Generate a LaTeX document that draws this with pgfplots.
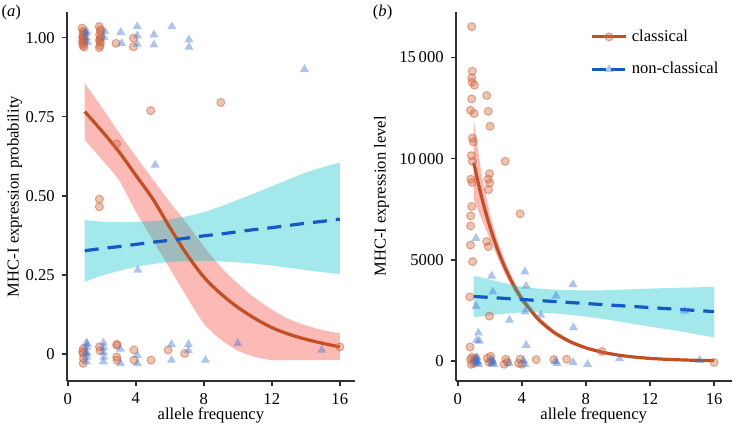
\documentclass[border=0pt]{standalone}
\usepackage{fontspec}
\setmainfont{Liberation Serif}
\usepackage{pgfplots}
\usepackage{pgfplotstable}
\pgfplotsset{compat=1.18}
\usepgfplotslibrary{fillbetween}

\definecolor{ClassLine}{HTML}{C44E22}
\definecolor{ClassPt}{HTML}{D2693E}
\definecolor{PinkBand}{HTML}{F8766D}
\definecolor{TealBand}{HTML}{00BFC4}
\definecolor{NonLine}{HTML}{1558C8}
\definecolor{NonPt}{HTML}{3B73D9}
\definecolor{AxisGray}{HTML}{303030}

% panel (a): fitted probability, classical
\pgfplotstableread{
x v up lo
1 0.766 0.856 0.676
2 0.705 0.780 0.615
3 0.640 0.700 0.550
4 0.565 0.625 0.450
5 0.490 0.552 0.360
6 0.400 0.480 0.270
7 0.315 0.413 0.180
8 0.243 0.340 0.096
9 0.190 0.275 0.045
10 0.147 0.222 0.010
11 0.112 0.177 -0.010
12 0.083 0.140 -0.020
13 0.062 0.110 -0.020
14 0.046 0.090 -0.020
15 0.033 0.075 -0.020
16 0.022 0.065 -0.020
}\fitAC
% panel (a): fitted probability, non-classical
\pgfplotstableread{
x v up lo
1 0.326 0.423 0.228
2 0.333 0.418 0.247
3 0.339 0.416 0.262
4 0.346 0.417 0.275
5 0.353 0.420 0.284
6 0.359 0.425 0.290
7 0.366 0.435 0.293
8 0.373 0.448 0.294
9 0.379 0.466 0.292
10 0.386 0.487 0.289
11 0.393 0.508 0.285
12 0.399 0.530 0.279
13 0.406 0.552 0.272
14 0.413 0.573 0.265
15 0.419 0.590 0.258
16 0.426 0.605 0.252
}\fitAN
\pgfplotstableread{
x y
0.85 1.030
0.90 1.020
0.95 1.010
0.88 1.000
0.92 0.995
0.97 0.990
0.86 0.985
0.93 0.980
0.90 0.975
0.96 0.970
0.89 1.005
0.94 1.015
0.91 0.990
1.85 1.035
1.92 1.025
1.88 1.010
1.95 1.000
1.87 0.990
1.93 0.985
1.90 0.975
1.86 0.968
1.94 1.020
1.89 0.995
2.84 0.982
3.86 0.998
3.86 0.971
4.88 0.769
9.00 0.795
2.88 0.664
1.86 0.489
1.86 0.465
0.92 0.017
0.90 0.001
0.93 -0.015
0.91 -0.030
0.88 0.008
1.86 0.022
1.90 0.010
2.88 0.027
2.90 0.030
2.88 -0.010
2.90 -0.020
3.90 0.012
3.90 -0.020
4.90 -0.020
5.90 0.012
6.88 0.001
16.0 0.022
}\ptsAC
\pgfplotstableread{
x y
1.08 1.014
1.16 0.985
1.10 1.000
1.12 1.020
2.19 1.019
2.15 1.000
3.12 1.017
3.17 0.982
4.09 1.035
4.09 1.006
4.09 0.980
5.07 1.009
5.07 0.977
6.12 1.035
7.13 0.993
7.13 0.970
13.92 0.900
5.14 0.597
4.12 0.265
1.10 0.035
1.12 0.020
1.10 0.005
1.13 -0.010
1.10 -0.025
1.15 0.030
1.12 0.000
2.10 0.035
2.12 0.020
2.10 0.005
2.13 -0.010
2.10 -0.025
3.10 0.015
3.10 -0.030
4.10 -0.005
4.10 -0.030
6.10 0.030
6.10 -0.020
7.10 0.030
7.10 0.010
8.10 -0.020
10.00 0.033
14.94 0.012
}\ptsAN

% panel (b): fitted expression level
\pgfplotstableread{
x v
1 9800
1.5 8083
2 6667
2.5 5499
3 4535
3.5 3741
4 3086
5 2099
6 1428
7 971
8 661
9 450
10 306
11 208
12 141
13 96
14 65
15 45
16 30
}\fitBC
% band outline: upper edge left to right, then lower edge right to left
\pgfplotstableread{
x y
1 11900
1.5 9200
2 7300
2.5 5900
3 4850
3.5 3980
4 3280
5 2240
6 1540
7 1060
8 740
9 520
10 370
11 265
12 195
13 145
14 110
15 85
16 70
16 -10
15 5
14 20
13 50
12 90
11 150
10 245
9 380
8 580
7 880
6 1320
5 1960
4 2890
3.5 3500
3 4230
2.5 5100
2 6050
1.5 7000
1 8000
}\bandBC
\pgfplotstableread{
x v
1 3200
4 3050
8 2850
12 2650
16 2450
}\fitBN
\pgfplotstableread{
x y
1 4230
2 4030
3 3840
4 3690
5 3590
6 3535
7 3510
8 3500
9 3500
10 3530
11 3560
12 3590
13 3610
14 3630
15 3650
16 3670
16 1175
15 1320
14 1460
13 1590
12 1710
11 1840
10 1970
9 2100
8 2200
7 2290
6 2365
5 2410
4 2410
3 2360
2 2270
1 2170
}\bandBN
\pgfplotstableread{
x y
0.875 16520
0.91 14320
0.875 13990
0.90 13780
1.04 13630
0.875 12950
0.80 12390
1.02 12230
1.81 13120
1.91 12340
2.02 11600
0.92 11020
0.98 10830
0.85 10150
0.92 9870
2.96 9870
0.82 8990
0.90 8830
1.98 9260
1.90 8990
2.00 8800
1.92 8470
0.875 7640
0.81 7180
3.90 7280
0.81 6680
0.80 5740
0.93 4920
1.81 5910
1.91 5660
0.75 3180
1.98 2230
0.77 700
0.80 100
0.85 -150
0.90 200
1.00 -100
1.05 50
1.10 150
1.85 150
1.95 -50
2.05 250
2.10 0
2.90 -150
3.00 100
3.10 -50
3.80 -100
3.90 100
4.00 -150
4.90 80
6.00 80
6.80 100
9.00 480
16.0 -60
}\ptsBC
\pgfplotstableread{
x y
1.14 6070
4.20 4420
2.12 4210
4.27 3710
2.19 3430
1.14 2720
7.19 3790
6.14 3220
5.19 2280
3.23 2030
4.20 2440
7.22 1670
1.29 1400
1.19 1040
1.35 1000
4.27 790
14.16 2475
10.10 130
15.10 50
1.10 100
1.15 -100
1.20 200
1.25 0
1.30 -150
1.15 50
1.20 -50
2.10 100
2.15 -100
2.20 0
2.25 -150
3.20 -100
4.10 50
4.20 -150
6.10 0
6.20 -100
7.20 -50
8.10 -150
}\ptsBN

\pgfplotsset{
  panel/.style={
    scale only axis,
    height=184.5pt,
    axis x line*=bottom, axis y line*=left,
    axis line style={AxisGray, line width=0.8pt, -},
    tick style={AxisGray, line width=0.8pt},
    tick align=outside, major tick length=2.5pt,
    font=\fontsize{8.3}{10}\selectfont,
    xtick={0,4,8,12,16},
    xticklabels={0,4,8,12,16},
    scaled x ticks=false, scaled y ticks=false,
    xlabel={allele frequency},
    xlabel style={yshift=5pt},
    clip=true,
  },
  cpts/.style={only marks, mark=*, mark size=2pt, ClassPt,
    mark options={solid, fill=ClassPt, fill opacity=0.4, draw=ClassPt, draw opacity=0.55, line width=0.5pt}},
  npts/.style={only marks, mark=triangle*, mark size=2.6pt, NonPt,
    mark options={solid, fill=NonPt, fill opacity=0.42, draw opacity=0}},
  cline/.style={ClassLine, line width=1.6pt, smooth},
  nline/.style={NonLine, line width=1.6pt, dash pattern=on 7pt off 4.5pt, smooth},
}

\begin{document}
\begin{tikzpicture}

\begin{axis}[panel,
  at={(33.35pt,-190.5pt)}, anchor=south west,
  width=144.2pt,
  xmin=-0.06, xmax=16.9, ymin=-0.086, ymax=1.081,
  ytick={0,0.25,0.5,0.75,1},
  yticklabels={0,0.25,0.50,0.75,1.00},
  ylabel={MHC-I expression probability},
  ylabel style={at={(axis description cs:0,0.5)}, anchor=center, yshift=26pt},
]
\addplot[cpts] table[x=x,y=y]{\ptsAC};
\addplot[npts] table[x=x,y=y]{\ptsAN};
\addplot[name path=acu, draw=none, smooth, forget plot] table[x=x,y=up]{\fitAC};
\addplot[name path=acl, draw=none, smooth, forget plot] table[x=x,y=lo]{\fitAC};
\addplot[PinkBand, fill opacity=0.5, draw=none, forget plot] fill between[of=acu and acl];
\addplot[cline] table[x=x,y=v]{\fitAC};
\addplot[name path=anu, draw=none, smooth, forget plot] table[x=x,y=up]{\fitAN};
\addplot[name path=anl, draw=none, smooth, forget plot] table[x=x,y=lo]{\fitAN};
\addplot[TealBand, fill opacity=0.36, draw=none, forget plot] fill between[of=anu and anl];
\addplot[nline] table[x=x,y=v]{\fitAN};
\end{axis}

\begin{axis}[panel,
  at={(227.85pt,-190.5pt)}, anchor=south west,
  width=138pt,
  xmin=-0.125, xmax=17.1, ymin=-975, ymax=17243,
  ytick={0,5000,10000,15000},
  yticklabels={0,5000,10\,000,15\,000},
  ylabel={MHC-I expression level},
  ylabel style={at={(axis description cs:0,0.5)}, anchor=center, yshift=37pt},
  legend style={draw=none, at={(0.465,0.975)}, anchor=north west,
    font=\fontsize{8.3}{10}\selectfont, row sep=5pt},
  legend cell align=left,
]
\addplot[cpts, forget plot] table[x=x,y=y]{\ptsBC};
\addplot[npts, forget plot] table[x=x,y=y]{\ptsBN};
\addplot[fill=PinkBand, fill opacity=0.5, draw=none, forget plot] table[x=x,y=y]{\bandBC} -- cycle;
\addplot[cline, forget plot] table[x=x,y=v]{\fitBC};
\addplot[fill=TealBand, fill opacity=0.36, draw=none, forget plot] table[x=x,y=y]{\bandBN} -- cycle;
\addplot[nline, forget plot] table[x=x,y=v]{\fitBN};
\addlegendimage{ClassLine, line width=1.6pt, mark=*, mark size=2pt,
  mark options={solid, fill=ClassPt, fill opacity=0.4, draw=ClassPt, draw opacity=0.55, line width=0.5pt}}
\addlegendentry{classical}
\addlegendimage{NonLine, line width=1.6pt, dash pattern=on 7pt off 2.5pt, mark=triangle*, mark size=2.6pt,
  mark options={solid, fill=NonPt, fill opacity=0.42, draw opacity=0}}
\addlegendentry{non-classical}
\end{axis}

\node[font=\fontsize{8.3}{10}\selectfont] at (5.6pt,-6.5pt) {(\textit{a})};
\node[font=\fontsize{8.3}{10}\selectfont] at (191.3pt,-6.5pt) {(\textit{b})};
\pgfresetboundingbox
\path[use as bounding box] (0,0) rectangle (367.5pt,-213pt);
\end{tikzpicture}
\end{document}
